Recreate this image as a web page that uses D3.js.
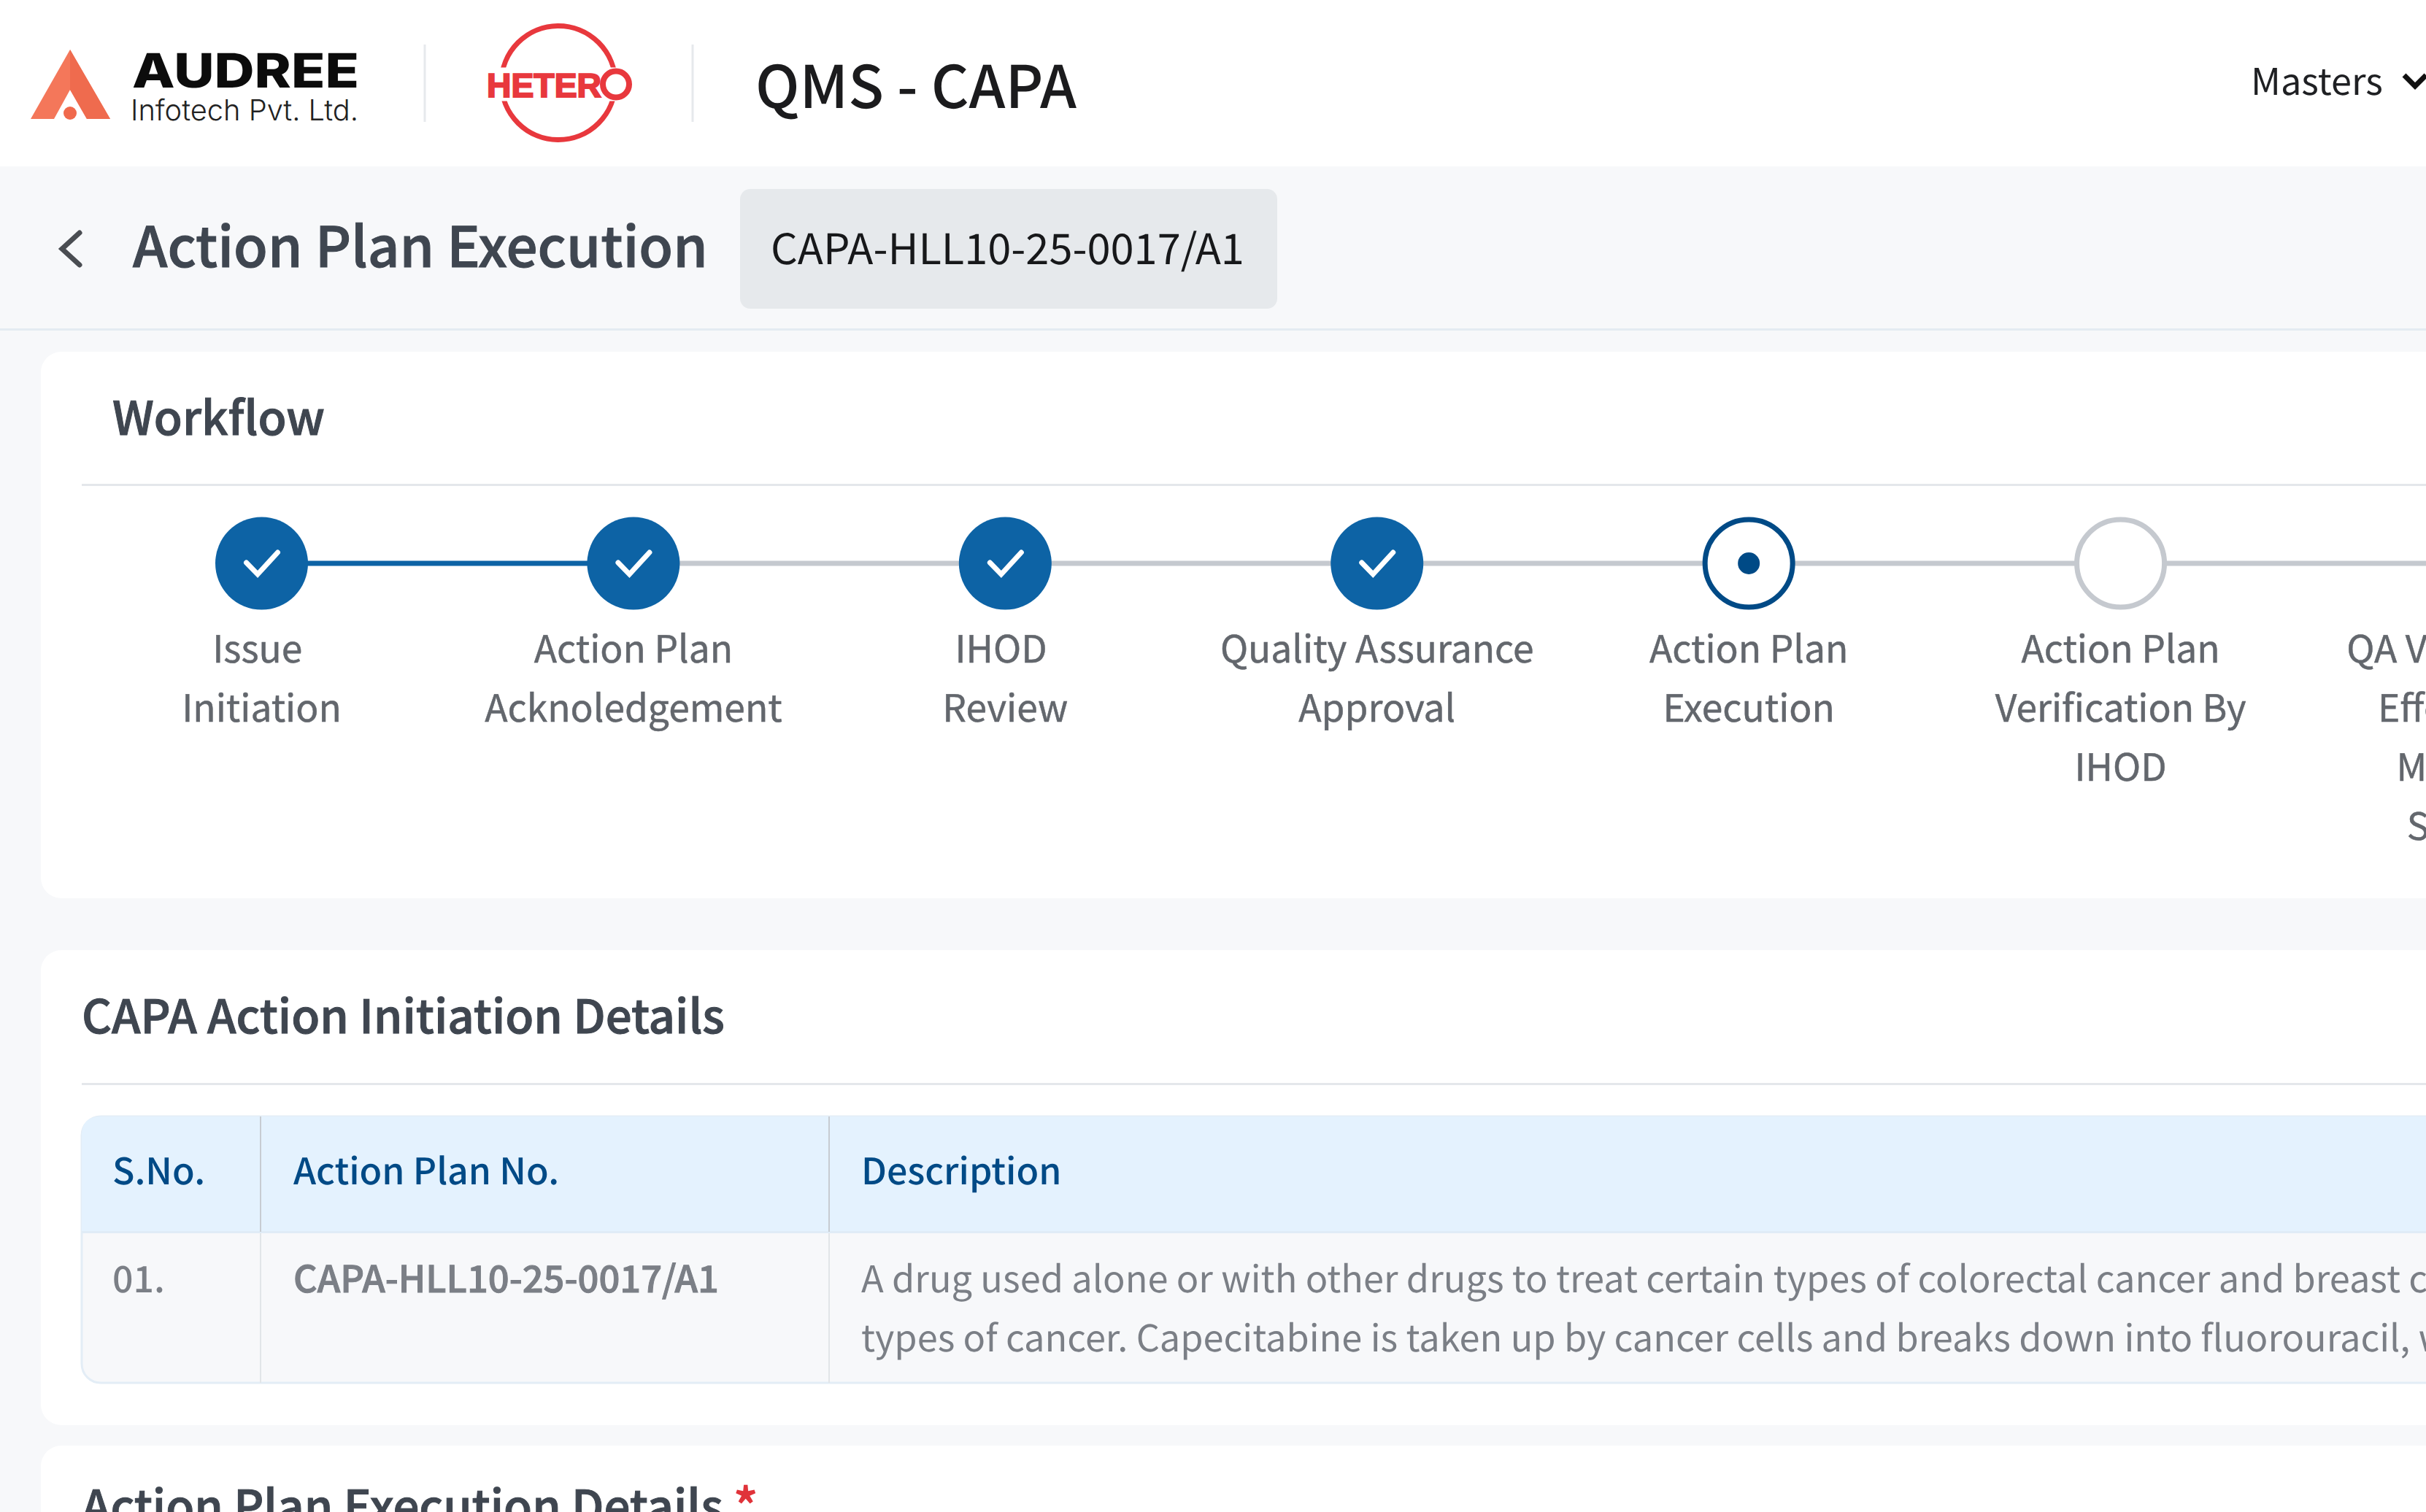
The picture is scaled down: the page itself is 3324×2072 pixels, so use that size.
<!DOCTYPE html>
<html>
<head>
<meta charset="utf-8">
<script src="https://cdn.jsdelivr.net/npm/d3@7"></script>
<style>
  html, body { margin: 0; padding: 0; background: #f7f8fa; overflow: hidden; }
  svg { display: block; }
  text { font-family: "Noto Sans CJK SC", "Noto Sans", sans-serif; text-rendering: geometricPrecision; white-space: pre; }
</style>
</head>
<body>
<svg id="page" width="3324" height="2072"></svg>
<script>
// chart content
const moduleTitle = "QMS - CAPA";
const menuLabel = "Masters";
const pageTitle = "Action Plan Execution";
const capaNumber = "CAPA-HLL10-25-0017/A1";
const workflowTitle = "Workflow";
const stepLabels = [
    ["Issue ", "Initiation"],
    ["Action Plan", "Acknoledgement"],
    ["IHOD ", "Review"],
    ["Quality Assurance", "Approval"],
    ["Action Plan", "Execution"],
    ["Action Plan", "Verification By", "IHOD"],
    ["QA Verification &", "Effectiveness", "Monitoring", "Summary"]
];
const stepStates = ["done", "done", "done", "done", "active", "todo", "todo"];
const linkStates = ["done", "todo", "todo", "todo", "todo", "todo"];
const detailsTitle = "CAPA Action Initiation Details";
const tableHeaders = ["S.No.", "Action Plan No.", "Description"];
const rowNumber = "01.";
const rowPlan = "CAPA-HLL10-25-0017/A1";
const rowDescription = [
    "A drug used alone or with other drugs to treat certain types of colorectal cancer and breast cancer. It is also being studied in the treatment of other",
    "types of cancer. Capecitabine is taken up by cancer cells and breaks down into fluorouracil, which kills the cancer cells."
];
const executionTitle = "Action Plan Execution Details";

const W = 3324, H = 2072;
const svg = d3.select("#page");

// adds a text; opts: weight, width (fit to a measured width), family, heavy (extra stroke)
function label(parent, str, x, y, size, color, opts = {}) {
    const t = parent.append("text")
        .attr("x", x).attr("y", y)
        .attr("font-size", size)
        .attr("font-weight", opts.weight || 400)
        .attr("fill", color)
        .text(str);
    if (opts.family) t.style("font-family", opts.family);
    if (opts.width) t.attr("font-size", size * opts.width / t.node().getComputedTextLength());
    if (opts.heavy) t.attr("stroke", color).attr("stroke-width", opts.heavy);
    return t;
}

// top bar
svg.append("rect").attr("width", W).attr("height", 228).attr("fill", "#ffffff");

// audree logo
const logo = svg.append("g");
logo.append("path").attr("d", "M96 68 L151 163 L119 163 L96 123 L74 163 L42 163 Z").attr("fill", "#f4775a");
logo.append("path").attr("d", "M96 68 L151 163 L119 163 L96 123 Z").attr("fill", "#ef6b4e");
logo.append("circle").attr("cx", 96).attr("cy", 155).attr("r", 9).attr("fill", "#f0694c");
label(logo, "AUDREE", 181, 120, 65, "#0c0c0c", { weight: 800, family: "Inter" })
    .attr("textLength", 311).attr("lengthAdjust", "spacingAndGlyphs");
label(logo, "Infotech Pvt. Ltd.", 179, 165, 36, "#222222", { weight: 300, family: "Inter", width: 312 });

// logo separators
svg.selectAll("line.sep").data([582, 949]).join("line")
    .attr("class", "sep")
    .attr("x1", d => d).attr("x2", d => d)
    .attr("y1", 61).attr("y2", 167)
    .attr("stroke", "#e6e9ec").attr("stroke-width", 3);

// hetero logo
const hetero = svg.append("g").attr("transform", "translate(765,113.5)");
hetero.append("circle").attr("r", 78).attr("fill", "none").attr("stroke", "#e8383d").attr("stroke-width", 7);
hetero.append("rect").attr("x", -110).attr("y", -21).attr("width", 190).attr("height", 46).attr("fill", "#ffffff");
hetero.append("circle").attr("cx", 79).attr("cy", 2).attr("r", 18).attr("fill", "#ffffff").attr("stroke", "#e8383d").attr("stroke-width", 8);
label(hetero, "HETER", -98, 19, 47, "#e8383d", { weight: 700, family: "Liberation Sans", width: 157, heavy: 2 });

label(svg, moduleTitle, 1035, 148, 76, "#1b1b1d", { weight: 500, width: 440 });
label(svg, menuLabel, 3084, 130, 50, "#1f2023", { width: 181 });
svg.append("path").attr("d", d3.line()([[3294, 103], [3309, 118], [3324, 103]]))
    .attr("fill", "none").attr("stroke", "#111111").attr("stroke-width", 7);

// page heading
svg.append("path").attr("d", d3.line()([[109, 319], [85, 341], [109, 363]]))
    .attr("fill", "none").attr("stroke", "#4a4d52").attr("stroke-width", 7).attr("stroke-linecap", "round");
label(svg, pageTitle, 182, 366, 76, "#3f4650", { weight: 500, width: 788, heavy: 1 });
svg.append("rect").attr("x", 1014).attr("y", 259).attr("width", 736).attr("height", 164).attr("rx", 14).attr("fill", "#e6e9ec");
label(svg, capaNumber, 1056, 362, 58, "#17181a", { width: 649 });
svg.append("rect").attr("x", 0).attr("y", 450).attr("width", W).attr("height", 3).attr("fill", "#e4ebf2");

// cards
const cards = [[482, 1231], [1302, 1953], [1981, 2200]];
svg.selectAll("rect.card").data(cards).join("rect")
    .attr("class", "card")
    .attr("x", 56).attr("y", d => d[0])
    .attr("width", W).attr("height", d => d[1] - d[0])
    .attr("rx", 28).attr("fill", "#ffffff");

// workflow
label(svg, workflowTitle, 154, 596, 66, "#3f4650", { weight: 500, width: 291, heavy: 1 });
svg.append("rect").attr("x", 112).attr("y", 663).attr("width", W).attr("height", 3).attr("fill", "#e4e7eb");

const stepX = d3.scalePoint().domain(d3.range(stepLabels.length)).range([358.5, 3415]);
const stepY = 772, stepR = 60;
const linkColor = d3.scaleOrdinal().domain(["done", "todo"]).range(["#0d63a5", "#c5c9cf"]);

svg.selectAll("line.link").data(linkStates).join("line")
    .attr("class", "link")
    .attr("x1", (d, i) => stepX(i)).attr("x2", (d, i) => stepX(i + 1))
    .attr("y1", stepY).attr("y2", stepY)
    .attr("stroke", linkColor).attr("stroke-width", 7);

const steps = svg.selectAll("g.step").data(stepLabels).join("g")
    .attr("class", "step")
    .attr("transform", (d, i) => `translate(${stepX(i)},${stepY})`);

steps.append("circle")
    .attr("r", (d, i) => stepStates[i] === "done" ? stepR + 3.5 : stepR)
    .attr("fill", (d, i) => stepStates[i] === "done" ? "#0d63a5" : "#ffffff")
    .attr("stroke", (d, i) => stepStates[i] === "active" ? "#004a86" : stepStates[i] === "todo" ? "#c5c9cf" : "none")
    .attr("stroke-width", 7);

steps.filter((d, i) => stepStates[i] === "done").append("path")
    .attr("d", d3.line()([[-21, -1], [-5.5, 15], [22, -15]]))
    .attr("fill", "none").attr("stroke", "#ffffff").attr("stroke-width", 7).attr("stroke-linecap", "round");

steps.filter((d, i) => stepStates[i] === "active").append("circle")
    .attr("r", 15).attr("fill", "#004a86");

steps.each(function (lines) {
    d3.select(this).selectAll("text").data(lines).join("text")
        .attr("text-anchor", "middle")
        .attr("y", (d, i) => 136 + i * 81)
        .attr("font-size", 51.5)
        .attr("fill", "#63676d")
        .attr("stroke", "#63676d").attr("stroke-width", 0.5)
        .text(d => d);
});

// details table
label(svg, detailsTitle, 112, 1416, 66, "#3f4650", { weight: 500, width: 881, heavy: 1 });
svg.append("rect").attr("x", 112).attr("y", 1484).attr("width", W).attr("height", 3).attr("fill", "#e4e7eb");

const tableX = 112, headerTop = 1530, headerBottom = 1688, tableBottom = 1895;
const columnX = [tableX, 357, 1136];
const columnText = [154, 402, 1180];

svg.append("rect").attr("x", tableX).attr("y", headerTop).attr("width", W).attr("height", tableBottom - headerTop)
    .attr("rx", 26).attr("fill", "#f7f8fa").attr("stroke", "#e3edf6").attr("stroke-width", 3);
svg.append("path")
    .attr("d", `M${tableX} ${headerBottom} V${headerTop + 26} Q${tableX} ${headerTop} ${tableX + 26} ${headerTop} H${W} V${headerBottom} Z`)
    .attr("fill", "#e4f2fe");
svg.append("rect").attr("x", tableX).attr("y", headerBottom - 1).attr("width", W).attr("height", 3).attr("fill", "#e0ecf6");

svg.selectAll("line.head").data(columnX.slice(1)).join("line")
    .attr("class", "head")
    .attr("x1", d => d).attr("x2", d => d).attr("y1", headerTop).attr("y2", headerBottom)
    .attr("stroke", "#c7ccd2").attr("stroke-width", 2);
svg.selectAll("line.cell").data(columnX.slice(1)).join("line")
    .attr("class", "cell")
    .attr("x1", d => d).attr("x2", d => d).attr("y1", headerBottom + 2).attr("y2", tableBottom)
    .attr("stroke", "#e2e5e8").attr("stroke-width", 2);

svg.selectAll("text.th").data(tableHeaders).join("text")
    .attr("class", "th")
    .attr("x", (d, i) => columnText[i]).attr("y", 1623)
    .attr("font-size", 50).attr("font-weight", 500)
    .attr("fill", "#004a86")
    .text(d => d);

label(svg, rowNumber, 154, 1771, 50, "#7b7f86", { weight: 500 });
label(svg, rowPlan, 402, 1771, 50, "#7b7f86", { weight: 500, width: 583, heavy: 1 });
svg.selectAll("text.desc").data(rowDescription).join("text")
    .attr("class", "desc")
    .attr("x", 1180).attr("y", (d, i) => 1771 + i * 81)
    .attr("font-size", 50.5)
    .attr("fill", "#7b7f86")
    .text(d => d);

// next card heading, cut by the page edge
label(svg, executionTitle, 112, 2088, 66, "#3f4650", { weight: 500, width: 879, heavy: 1 });
label(svg, "*", 1005, 2088, 66, "#e0333a", { weight: 700 });
</script>
</body>
</html>
